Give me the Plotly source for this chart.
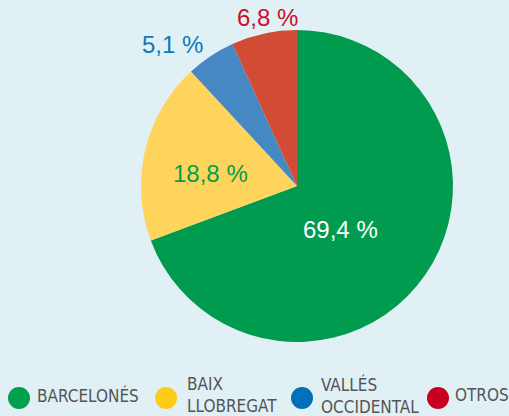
import plotly.graph_objects as go

# datos
comarcas = ["BARCELONÉS", "BAIX<br>LLOBREGAT", "VALLÉS<br>OCCIDENTAL", "OTROS"]
porcentajes = [69.4, 18.8, 5.1, 6.8]
colores_pie = ["#009b4f", "#ffd45c", "#4588c4", "#d24c35"]
colores_leyenda = ["#00a04f", "#ffcb1a", "#0071b9", "#c8001f"]
colores_texto = ["#ffffff", "#00a04f", "#0b78bf", "#c8102e"]

# posicion de las etiquetas y de la leyenda (px)
pos_etiquetas = [(340, 229), (210, 173), (172, 45), (267, 18)]
leyenda_cx = [19, 166, 302, 438]
leyenda_tx = [35, 185, 319, 453]
W, H = 509, 416

fig = go.Figure(go.Pie(
    values=porcentajes,
    labels=comarcas,
    marker=dict(colors=colores_pie, line=dict(width=0)),
    sort=False,
    direction="clockwise",
    rotation=0,
    textinfo="none",
    hoverinfo="label+percent",
    showlegend=False,
    domain=dict(x=[141 / W, 453 / W], y=[1 - 342 / H, 1 - 30 / H]),
))

annotations = []
for v, c, (px, py) in zip(porcentajes, colores_texto, pos_etiquetas):
    annotations.append(dict(
        x=px / W, y=1 - py / H, xref="paper", yref="paper",
        text=f"{v:.1f}".replace(".", ",") + " %",
        showarrow=False, xanchor="center", yanchor="middle",
        font=dict(family="Liberation Sans, Arial, sans-serif", size=24, color=c),
    ))

shapes = []
yl = 1 - 395 / H
for nombre, c, cx, tx in zip(comarcas, colores_leyenda, leyenda_cx, leyenda_tx):
    shapes.append(dict(
        type="circle", xref="paper", yref="paper",
        xsizemode="pixel", ysizemode="pixel",
        xanchor=cx / W, yanchor=1 - 398 / H,
        x0=-11, x1=11, y0=-11, y1=11,
        fillcolor=c, line=dict(width=0),
    ))
    annotations.append(dict(
        x=tx / W, y=yl, xref="paper", yref="paper",
        text=nombre, showarrow=False, xanchor="left", yanchor="middle",
        align="left",
        font=dict(family="DejaVu Sans Condensed, Liberation Sans, sans-serif",
                  size=17, color="#555555"),
    ))

fig.update_layout(
    width=W, height=H,
    margin=dict(l=0, r=0, t=0, b=0),
    paper_bgcolor="#e1f0f4",
    plot_bgcolor="#e1f0f4",
    annotations=annotations,
    shapes=shapes,
)

fig.write_html("out.html", config={"displayModeBar": False},
               post_script="document.body.style.margin='0';")
